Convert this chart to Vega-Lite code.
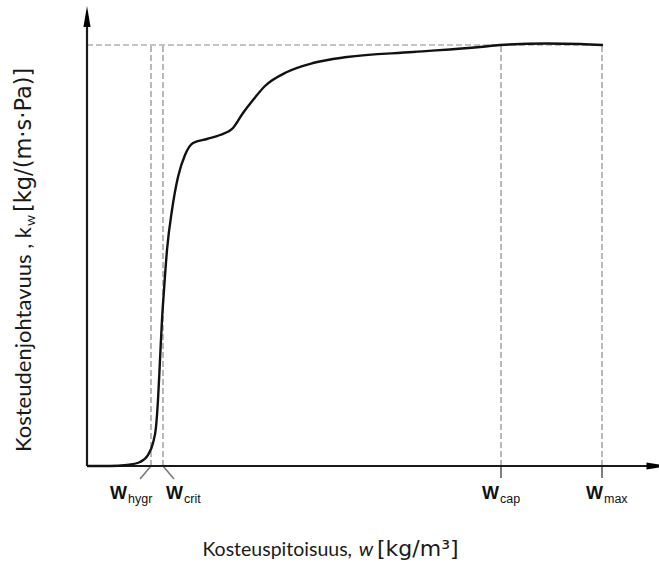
{
  "$schema": "https://vega.github.io/schema/vega-lite/v6.json",
  "width": 572,
  "height": 461,
  "autosize": {"type": "none"},
  "padding": {"left": 87, "top": 5, "right": 0, "bottom": 96},
  "background": "white",
  "config": {"view": {"stroke": null}, "font": "Lato"},
  "data": {
    "values": [
      {"g": "curve", "w": 0, "k": 0}, {"g": "curve", "w": 23, "k": 0}, {"g": "curve", "w": 40, "k": 1}, {"g": "curve", "w": 53, "k": 4},
      {"g": "curve", "w": 61, "k": 11}, {"g": "curve", "w": 66, "k": 23}, {"g": "curve", "w": 69, "k": 39}, {"g": "curve", "w": 71, "k": 66},
      {"g": "curve", "w": 73, "k": 106}, {"g": "curve", "w": 75, "k": 146}, {"g": "curve", "w": 77, "k": 176}, {"g": "curve", "w": 80, "k": 216},
      {"g": "curve", "w": 85, "k": 256}, {"g": "curve", "w": 91, "k": 289}, {"g": "curve", "w": 98, "k": 311}, {"g": "curve", "w": 106, "k": 323},
      {"g": "curve", "w": 120, "k": 327}, {"g": "curve", "w": 133, "k": 331}, {"g": "curve", "w": 146, "k": 338}, {"g": "curve", "w": 156, "k": 353},
      {"g": "curve", "w": 166, "k": 366}, {"g": "curve", "w": 178, "k": 380}, {"g": "curve", "w": 200, "k": 394}, {"g": "curve", "w": 226, "k": 403},
      {"g": "curve", "w": 260, "k": 409}, {"g": "curve", "w": 326, "k": 414}, {"g": "curve", "w": 393, "k": 419}, {"g": "curve", "w": 413, "k": 421},
      {"g": "curve", "w": 460, "k": 422.5}, {"g": "curve", "w": 493, "k": 422}, {"g": "curve", "w": 516, "k": 421},
      {"g": "dash", "w": 0, "k": 421, "w2": 515, "k2": 421},
      {"g": "dash", "w": 64, "k": 0, "w2": 64, "k2": 421},
      {"g": "dash", "w": 76, "k": 0, "w2": 76, "k2": 421},
      {"g": "dash", "w": 414, "k": 0, "w2": 414, "k2": 421},
      {"g": "dash", "w": 515, "k": 0, "w2": 515, "k2": 421},
      {"g": "tick", "w": 414, "k": 0, "w2": 414, "k2": -12},
      {"g": "tick", "w": 515, "k": 0, "w2": 515, "k2": -12},
      {"g": "leader", "w": 64, "k": 0, "w2": 53, "k2": -13},
      {"g": "leader", "w": 76, "k": 0, "w2": 87, "k2": -13},
      {"g": "axis", "w": 0, "k": 0, "w2": 562, "k2": 0},
      {"g": "axis", "w": 0, "k": 0, "w2": 0, "k2": 442},
      {"g": "xarrow", "w": 570, "k": 0},
      {"g": "yarrow", "w": 0, "k": 449.5},
      {"g": "lblmain", "w": 40, "k": -33, "t": "W"},
      {"g": "lblmain", "w": 96, "k": -33, "t": "W"},
      {"g": "lblmain", "w": 412, "k": -33, "t": "W"},
      {"g": "lblmain", "w": 516, "k": -33, "t": "W"},
      {"g": "lblsub", "w": 41, "k": -37, "t": "hygr"},
      {"g": "lblsub", "w": 97, "k": -37, "t": "crit"},
      {"g": "lblsub", "w": 413, "k": -37, "t": "cap"},
      {"g": "lblsub", "w": 517, "k": -37, "t": "max"},
      {"g": "xt_a", "w": 265, "k": -90, "t": "Kosteuspitoisuus,"},
      {"g": "xt_b", "w": 279, "k": -90, "t": "w"},
      {"g": "xt_c", "w": 290, "k": -90, "t": "[kg/m³]"},
      {"g": "yt_a", "w": -56, "k": 239, "t": "Kosteudenjohtavuus , k"},
      {"g": "yt_b", "w": -52, "k": 240, "t": "w"},
      {"g": "yt_c", "w": -56, "k": 254, "t": "[kg/(m·s·Pa)]"}
    ]
  },
  "encoding": {
    "x": {"field": "w", "type": "quantitative", "scale": {"domain": [0, 572], "nice": false, "zero": false}, "axis": null},
    "y": {"field": "k", "type": "quantitative", "scale": {"domain": [0, 461], "nice": false, "zero": false}, "axis": null}
  },
  "layer": [
    {
      "transform": [{"filter": "datum.g == 'dash'"}],
      "mark": {"type": "rule", "color": "#8a8a8a", "strokeWidth": 1.2, "strokeDash": [6, 3]},
      "encoding": {"x2": {"field": "w2"}, "y2": {"field": "k2"}}
    },
    {
      "transform": [{"filter": "datum.g == 'tick'"}],
      "mark": {"type": "rule", "color": "#555555", "strokeWidth": 1.5},
      "encoding": {"x2": {"field": "w2"}, "y2": {"field": "k2"}}
    },
    {
      "transform": [{"filter": "datum.g == 'leader'"}],
      "mark": {"type": "rule", "color": "#777777", "strokeWidth": 1.5},
      "encoding": {"x2": {"field": "w2"}, "y2": {"field": "k2"}}
    },
    {
      "transform": [{"filter": "datum.g == 'axis'"}],
      "mark": {"type": "rule", "color": "#1a1a1a", "strokeWidth": 2.2},
      "encoding": {"x2": {"field": "w2"}, "y2": {"field": "k2"}}
    },
    {
      "transform": [{"filter": "datum.g == 'xarrow'"}],
      "mark": {"type": "point", "shape": "M1,0L-1,-0.34L-1,0.34Z", "size": 441, "filled": true, "color": "#000000", "opacity": 1}
    },
    {
      "transform": [{"filter": "datum.g == 'yarrow'"}],
      "mark": {"type": "point", "shape": "M0,-1L0.34,1L-0.34,1Z", "size": 441, "filled": true, "color": "#000000", "opacity": 1}
    },
    {
      "transform": [{"filter": "datum.g == 'curve'"}],
      "mark": {"type": "line", "color": "#111111", "strokeWidth": 2.4, "interpolate": "monotone"}
    },
    {
      "transform": [{"filter": "datum.g == 'lblmain'"}],
      "mark": {"type": "text", "align": "right", "baseline": "alphabetic", "font": "Liberation Sans", "fontWeight": "bold", "fontSize": 18, "color": "#111111"},
      "encoding": {"text": {"field": "t"}}
    },
    {
      "transform": [{"filter": "datum.g == 'lblsub'"}],
      "mark": {"type": "text", "align": "left", "baseline": "alphabetic", "font": "Liberation Sans", "fontSize": 12.5, "color": "#111111"},
      "encoding": {"text": {"field": "t"}}
    },
    {
      "transform": [{"filter": "datum.g == 'xt_a'"}],
      "mark": {"type": "text", "align": "right", "baseline": "alphabetic", "fontSize": 19.5, "color": "#1a1a1a"},
      "encoding": {"text": {"field": "t"}}
    },
    {
      "transform": [{"filter": "datum.g == 'xt_b'"}],
      "mark": {"type": "text", "align": "center", "baseline": "alphabetic", "fontSize": 20, "fontStyle": "italic", "color": "#1a1a1a"},
      "encoding": {"text": {"field": "t"}}
    },
    {
      "transform": [{"filter": "datum.g == 'xt_c'"}],
      "mark": {"type": "text", "align": "left", "baseline": "alphabetic", "font": "DejaVu Sans", "fontSize": 22, "color": "#1a1a1a"},
      "encoding": {"text": {"field": "t"}}
    },
    {
      "transform": [{"filter": "datum.g == 'yt_a'"}],
      "mark": {"type": "text", "angle": 270, "align": "right", "baseline": "alphabetic", "fontSize": 22, "color": "#1a1a1a"},
      "encoding": {"text": {"field": "t"}}
    },
    {
      "transform": [{"filter": "datum.g == 'yt_b'"}],
      "mark": {"type": "text", "angle": 270, "align": "left", "baseline": "alphabetic", "fontSize": 14, "color": "#1a1a1a"},
      "encoding": {"text": {"field": "t"}}
    },
    {
      "transform": [{"filter": "datum.g == 'yt_c'"}],
      "mark": {"type": "text", "angle": 270, "align": "left", "baseline": "alphabetic", "font": "DejaVu Sans", "fontSize": 22.5, "color": "#1a1a1a"},
      "encoding": {"text": {"field": "t"}}
    }
  ]
}
